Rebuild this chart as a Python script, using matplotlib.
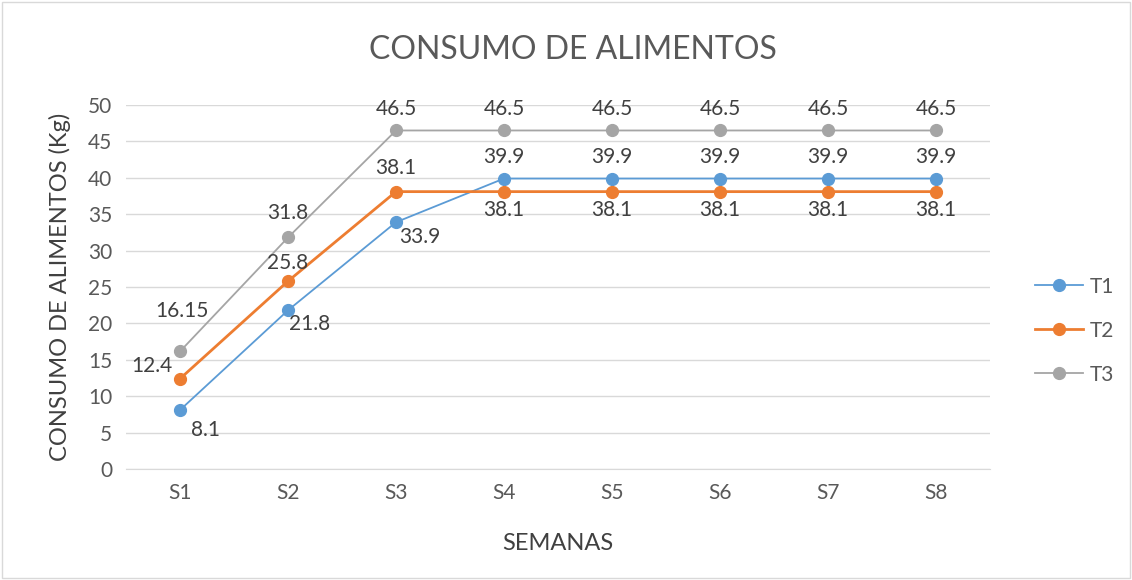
import matplotlib
matplotlib.use("Agg")
import matplotlib.pyplot as plt
from matplotlib.patches import Rectangle

plt.rcParams['font.family'] = ['Lato', 'DejaVu Sans']

semanas = ["S1", "S2", "S3", "S4", "S5", "S6", "S7", "S8"]
t1 = [8.1, 21.8, 33.9, 39.9, 39.9, 39.9, 39.9, 39.9]
t2 = [12.4, 25.8, 38.1, 38.1, 38.1, 38.1, 38.1, 38.1]
t3 = [16.15, 31.8, 46.5, 46.5, 46.5, 46.5, 46.5, 46.5]
t3_labels = ["16.15", "31.8", "46.5", "46.5", "46.5", "46.5", "46.5", "46.5"]

# label offsets in pixels (dx, dy)
off_t1 = [(25, -20), (22, -14), (24, -15)] + [(0, 22)] * 5
off_t2 = [(-28, 13), (0, 18), (0, 24)] + [(0, -18)] * 5
off_t3 = [(2, 40), (0, 24)] + [(0, 21)] * 6

fig = plt.figure(figsize=(11.32, 5.8), dpi=100)
ax = fig.add_axes([126 / 1132, 111 / 580, 864 / 1132, 364 / 580])

x = list(range(len(semanas)))
series = [("T1", t1, "#5B9BD5", 1.3, off_t1, [f"{v:g}" for v in t1]),
          ("T2", t2, "#ED7D31", 2.0, off_t2, [f"{v:g}" for v in t2]),
          ("T3", t3, "#A5A5A5", 1.3, off_t3, t3_labels)]

for name, vals, col, lw, offs, labs in series:
    ax.plot(x, vals, color=col, lw=lw, marker="o", markersize=8.5, label=name, zorder=3)
    for xi, v, (dx, dy), lab in zip(x, vals, offs, labs):
        ax.annotate(lab, (xi, v), xytext=(dx, dy), textcoords="offset pixels",
                    ha="center", va="center", fontsize=15, color="#404040", zorder=4)

ax.set_xlim(-0.5, 7.5)
ax.set_ylim(0, 50)
ax.set_yticks(range(0, 51, 5))
ax.set_xticks(x)
ax.set_xticklabels(semanas)
ax.grid(axis="y", color="#D9D9D9", lw=1)
ax.set_axisbelow(True)
for s in ["top", "right", "left"]:
    ax.spines[s].set_visible(False)
ax.spines["bottom"].set_color("#D9D9D9")
ax.tick_params(length=0, labelsize=15, labelcolor="#595959", pad=10)

ax.set_xlabel("SEMANAS", fontsize=17, color="#404040", labelpad=22)
ax.set_ylabel("CONSUMO DE ALIMENTOS (Kg)", fontsize=17, color="#404040", labelpad=12)
fig.text(573 / 1132, 1 - 50 / 580, "CONSUMO DE ALIMENTOS", ha="center", va="center",
         fontsize=23, color="#595959")

ax.legend(loc="center left", bbox_to_anchor=(1.03, 0.38), frameon=False, fontsize=15,
          labelcolor="#595959", handlelength=2.3, labelspacing=1.15, handletextpad=0.35)

fig.patches.append(Rectangle((0.002, 0.003), 0.996, 0.994, transform=fig.transFigure,
                             fill=False, edgecolor="#D9D9D9", lw=1))

fig.savefig("out.png", dpi=100)
